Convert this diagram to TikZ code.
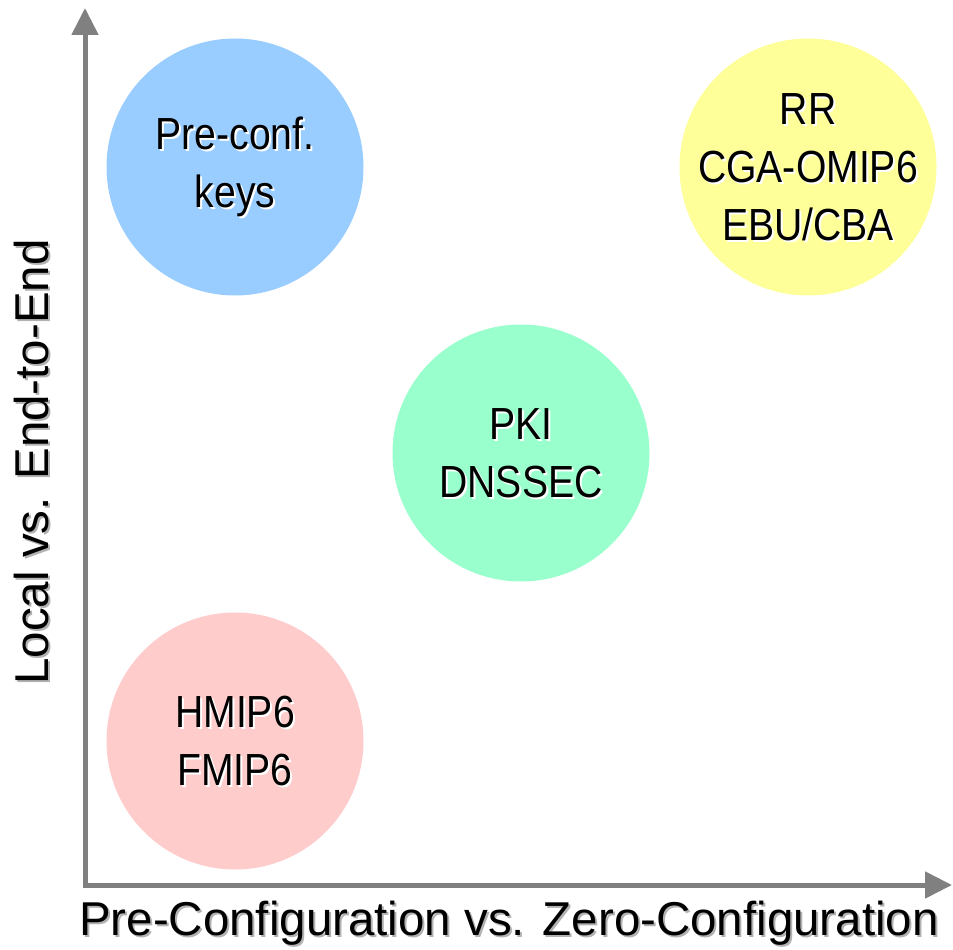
\documentclass[tikz,border=0pt]{standalone}
\usepackage{fontspec}
\setmainfont{Liberation Sans}
\newfontfamily\bubblefont{Liberation Sans}[FakeStretch=0.87]
\usepackage{tikz}
\usetikzlibrary{arrows.meta}
\definecolor{axisgray}{RGB}{128,128,128}
\definecolor{keyblue}{HTML}{99CCFF}
\definecolor{zeroyellow}{HTML}{FFFF99}
\definecolor{pkigreen}{HTML}{99FFCC}
\definecolor{mippink}{HTML}{FFCCCC}

\tikzset{
  axisline/.style={line width=5pt, draw=axisgray,
    {Triangle[length=27pt,width=26pt]}-{Triangle[length=27pt,width=26pt]}},
  bubble/.style={circle, minimum size=257pt, inner sep=0pt, draw=none, fill=#1},
  bubbletext/.style={font={\bubblefont\fontsize{45}{58}\selectfont}, align=center, inner sep=0pt},
  axistext/.style={font={\fontsize{47.5}{56}\selectfont}, inner sep=0pt}
}
% text with a drop shadow: position, name, shadow colour, style, text
\newcommand{\shadowtext}[5]{
  \node[#4, text=#3] at ([shift={(2,2)}]#1) {#5};
  \node[#4, text=black] (#2) at (#1) {#5};
}

\begin{document}
\begin{tikzpicture}[x=1pt, y=-1pt]
\useasboundingbox (0,0) rectangle (953,950);
%%%%% Axis %%%%%
\coordinate (origin) at (85,885);
\coordinate (ytip) at (85,8);
\coordinate (xtip) at (952,885);
\draw[axisline] (ytip) -- (origin) -- (xtip);
%%%%% Bubbles %%%%%
\node[bubble=keyblue] (keys) at (235,167) {};
\node[bubble=zeroyellow] (zero) at (808,167) {};
\node[bubble=pkigreen] (pki) at (521,453) {};
\node[bubble=mippink] (mip) at (235,741) {};
\shadowtext{keys.center}{keystext}{white}{bubbletext}{Pre-conf.\\keys}
\shadowtext{zero.center}{zerotext}{white}{bubbletext}{RR\\CGA-OMIP6\\EBU/CBA}
\shadowtext{pki.center}{pkitext}{white}{bubbletext}{PKI\\DNSSEC}
\shadowtext{mip.center}{miptext}{white}{bubbletext}{HMIP6\\FMIP6}
%%%%% Labels %%%%%
\coordinate (xlabelpos) at (509,935);
\coordinate (ylabelpos) at (48,462);
\shadowtext{xlabelpos}{xlabel}{gray!60}{axistext, anchor=base}{Pre-Configuration vs. Zero-Configuration}
\shadowtext{ylabelpos}{ylabel}{gray!60}{axistext, anchor=base, rotate=90}{Local vs. End-to-End}
\end{tikzpicture}
\end{document}
